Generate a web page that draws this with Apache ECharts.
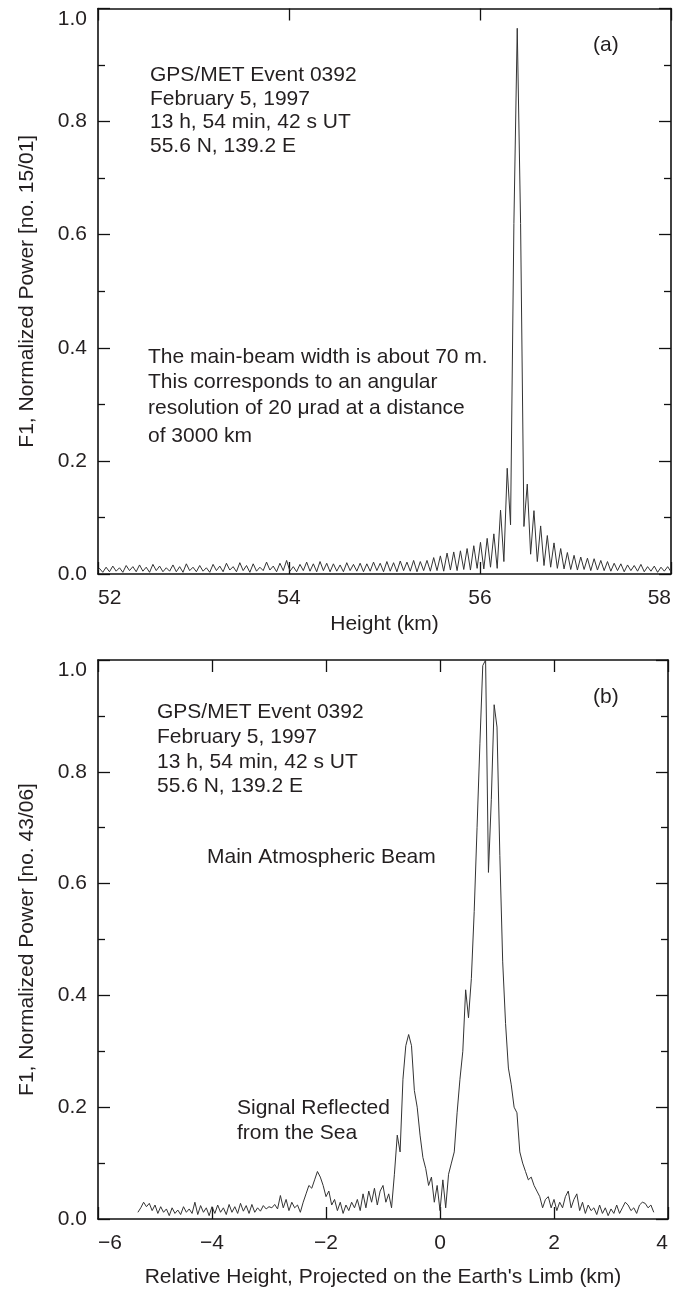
<!DOCTYPE html>
<html>
<head>
<meta charset="utf-8">
<script src="https://cdn.jsdelivr.net/npm/echarts@6/dist/echarts.min.js"></script>
<style>html,body{margin:0;padding:0;background:#fff}#c{width:675px;height:1289px}</style>
</head>
<body>
<div id="c"></div>
<script>
// Panel (a): [height km, normalized power]
const curveA = [
[51.980,.004],[52.015,.010],[52.050,.003],[52.085,.012],[52.120,.004],[52.155,.014],[52.190,.005],[52.225,.011],[52.260,.003],[52.295,.015],
[52.330,.006],[52.365,.013],[52.400,.004],[52.435,.016],[52.470,.005],[52.505,.012],[52.540,.003],[52.575,.017],[52.610,.006],[52.645,.014],
[52.680,.004],[52.715,.011],[52.750,.005],[52.785,.016],[52.820,.004],[52.855,.013],[52.890,.003],[52.925,.018],[52.960,.006],[52.995,.012],
[53.030,.004],[53.065,.015],[53.100,.005],[53.135,.011],[53.170,.003],[53.205,.017],[53.240,.006],[53.275,.014],[53.310,.004],[53.345,.019],
[53.380,.007],[53.415,.013],[53.450,.004],[53.485,.020],[53.520,.006],[53.555,.015],[53.590,.003],[53.625,.018],[53.660,.005],[53.695,.012],
[53.730,.006],[53.765,.021],[53.800,.007],[53.835,.014],[53.870,.004],[53.905,.019],[53.940,.006],[53.975,.024],[54.010,.005],[54.045,.013],
[54.080,.004],[54.115,.017],[54.150,.006],[54.185,.021],[54.220,.005],[54.255,.018],[54.290,.004],[54.325,.022],[54.360,.006],[54.395,.019],
[54.430,.004],[54.465,.018],[54.500,.005],[54.535,.016],[54.570,.004],[54.605,.020],[54.640,.006],[54.675,.017],[54.710,.005],[54.745,.019],
[54.780,.004],[54.815,.018],[54.850,.005],[54.885,.021],[54.920,.006],[54.955,.019],[54.990,.004],[55.025,.022],[55.060,.005],[55.095,.020],
[55.130,.004],[55.165,.023],[55.200,.006],[55.235,.021],[55.270,.005],[55.305,.024],[55.340,.004],[55.375,.022],[55.410,.006],[55.445,.024],
[55.480,.005],[55.515,.029],[55.550,.006],[55.585,.032],[55.620,.005],[55.655,.037],[55.690,.007],[55.725,.039],[55.760,.006],[55.795,.041],
[55.830,.008],[55.865,.045],[55.900,.007],[55.935,.050],[55.970,.010],[56.005,.056],[56.040,.009],[56.075,.063],[56.110,.012],[56.145,.071],
[56.180,.010],[56.215,.113],[56.250,.022],[56.285,.187],[56.320,.087],[56.355,.620],[56.390,.965],[56.425,.620],[56.460,.084],[56.495,.159],
[56.530,.035],[56.565,.112],[56.600,.022],[56.635,.085],[56.670,.015],[56.705,.068],[56.740,.012],[56.775,.055],[56.810,.010],[56.845,.045],
[56.880,.009],[56.915,.038],[56.950,.008],[56.985,.033],[57.020,.007],[57.055,.030],[57.090,.008],[57.125,.028],[57.160,.006],[57.195,.027],
[57.230,.007],[57.265,.024],[57.300,.006],[57.335,.022],[57.370,.005],[57.405,.019],[57.440,.006],[57.475,.018],[57.510,.004],[57.545,.016],
[57.580,.006],[57.615,.015],[57.650,.005],[57.685,.017],[57.720,.004],[57.755,.013],[57.790,.005],[57.825,.014],[57.860,.003],[57.895,.012],
[57.930,.005],[57.965,.013],[58.000,.004]
];
// Panel (b): [relative height km, normalized power]
const curveB = [
[-5.30,.012],[-5.25,.020],[-5.20,.030],[-5.15,.022],[-5.10,.028],[-5.05,.015],[-5.00,.025],[-4.95,.010],[-4.90,.022],[-4.85,.012],
[-4.80,.018],[-4.75,.006],[-4.70,.020],[-4.65,.010],[-4.60,.016],[-4.55,.008],[-4.50,.022],[-4.45,.012],[-4.40,.018],[-4.35,.010],
[-4.30,.030],[-4.25,.008],[-4.20,.024],[-4.15,.012],[-4.10,.020],[-4.05,.006],[-4.00,.022],[-3.95,.010],[-3.90,.025],[-3.85,.012],
[-3.80,.020],[-3.75,.008],[-3.70,.026],[-3.65,.012],[-3.60,.022],[-3.55,.010],[-3.50,.028],[-3.45,.014],[-3.40,.024],[-3.35,.010],
[-3.30,.026],[-3.25,.012],[-3.20,.020],[-3.15,.014],[-3.10,.024],[-3.05,.018],[-3.00,.022],[-2.95,.020],[-2.90,.026],[-2.85,.018],
[-2.80,.042],[-2.75,.020],[-2.70,.035],[-2.65,.015],[-2.60,.030],[-2.55,.020],[-2.50,.025],[-2.45,.012],[-2.40,.030],[-2.35,.045],
[-2.30,.060],[-2.25,.055],[-2.20,.070],[-2.15,.085],[-2.10,.075],[-2.05,.060],[-2.00,.040],[-1.95,.050],[-1.90,.025],[-1.85,.035],
[-1.80,.015],[-1.75,.030],[-1.70,.010],[-1.65,.025],[-1.60,.015],[-1.55,.030],[-1.50,.020],[-1.45,.035],[-1.40,.015],[-1.35,.045],
[-1.30,.020],[-1.25,.050],[-1.20,.030],[-1.15,.055],[-1.10,.025],[-1.05,.050],[-1.00,.060],[-0.95,.030],[-0.90,.045],[-0.85,.020],
[-0.80,.080],[-0.75,.150],[-0.70,.120],[-0.65,.250],[-0.60,.310],[-0.55,.330],[-0.50,.310],[-0.45,.230],[-0.40,.200],[-0.35,.150],
[-0.30,.110],[-0.25,.090],[-0.20,.060],[-0.15,.075],[-0.10,.030],[-0.05,.060],[0.00,.015],[0.05,.070],[0.10,.020],[0.15,.080],
[0.20,.100],[0.25,.120],[0.30,.190],[0.35,.250],[0.40,.300],[0.45,.410],[0.50,.360],[0.55,.430],[0.60,.550],[0.65,.700],
[0.70,.850],[0.75,.990],[0.80,1.000],[0.85,.620],[0.90,.750],[0.95,.920],[1.00,.880],[1.05,.650],[1.10,.460],[1.15,.350],
[1.20,.270],[1.25,.240],[1.30,.200],[1.35,.190],[1.40,.120],[1.45,.100],[1.50,.085],[1.55,.070],[1.60,.075],[1.65,.060],
[1.70,.050],[1.75,.040],[1.80,.020],[1.85,.035],[1.90,.040],[1.95,.020],[2.00,.035],[2.05,.015],[2.10,.030],[2.15,.020],
[2.20,.040],[2.25,.050],[2.30,.020],[2.35,.035],[2.40,.045],[2.45,.015],[2.50,.030],[2.55,.010],[2.60,.025],[2.65,.015],
[2.70,.020],[2.75,.008],[2.80,.025],[2.85,.010],[2.90,.020],[2.95,.006],[3.00,.018],[3.05,.010],[3.10,.025],[3.15,.010],
[3.20,.020],[3.25,.030],[3.30,.025],[3.35,.015],[3.40,.020],[3.45,.010],[3.50,.025],[3.55,.030],[3.60,.028],[3.65,.020],
[3.70,.025],[3.75,.012]
];
const xTicksA = [52, 54, 56, 58];
const xTicksB = [-6, -4, -2, 0, 2, 4];
const yTicks = [0, 0.2, 0.4, 0.6, 0.8, 1.0];
const infoLines = ['GPS/MET Event 0392', 'February 5, 1997', '13 h, 54 min, 42 s UT', '55.6 N, 139.2 E'];
const beamNote = ['The main-beam width is about 70 m.', 'This corresponds to an angular', 'resolution of 20 \u03bcrad at a distance', 'of 3000 km'];

const FONT = '"Liberation Sans", Arial, Helvetica, sans-serif';
const INK = '#231f20';
const chart = echarts.init(document.getElementById('c'), null, {renderer: 'canvas'});

function xAx(grid, min, max, ticks, name, gap, pos) {
  const labels = pos === 'bottom';
  return {
    type: 'value', gridIndex: grid, position: pos, min: min, max: max, interval: ticks[1] - ticks[0],
    name: labels ? name : '', nameLocation: 'middle', nameGap: gap,
    nameTextStyle: {fontFamily: FONT, fontSize: 21, color: INK},
    axisLine: {show: true, onZero: false, lineStyle: {color: '#111', width: 1.6}},
    axisTick: {show: true, inside: true, length: 12, lineStyle: {color: '#111', width: 1.3}},
    minorTick: {show: false},
    splitLine: {show: false},
    axisLabel: {show: labels, fontFamily: FONT, fontSize: 21, color: INK, margin: 14,
      alignMinLabel: 'left', alignMaxLabel: 'right',
      formatter: v => (v < 0 ? '\u2212' + Math.abs(v) : String(v))}
  };
}
function yAx(grid, name, pos) {
  const labels = pos === 'left';
  return {
    type: 'value', gridIndex: grid, position: pos, min: 0, max: 1, interval: yTicks[1] - yTicks[0],
    name: labels ? name : '', nameLocation: 'middle', nameGap: 60, nameRotate: 90,
    nameTextStyle: {fontFamily: FONT, fontSize: 21, color: INK},
    axisLine: {show: true, onZero: false, lineStyle: {color: '#111', width: 1.6}},
    axisTick: {show: true, inside: true, length: 12, lineStyle: {color: '#111', width: 1.3}},
    minorTick: {show: true, splitNumber: 2, length: 7, lineStyle: {color: '#111', width: 1.3}},
    splitLine: {show: false},
    axisLabel: {show: labels, fontFamily: FONT, fontSize: 21, color: INK, margin: 11,
      verticalAlignMaxLabel: 'top',
      formatter: v => v.toFixed(1)}
  };
}

const graphics = [];
function addText(txt, x, y) {
  graphics.push({type: 'text', x: x, y: y, z: 10,
    style: {text: txt, font: '21px ' + FONT, fill: INK, verticalAlign: 'middle', align: 'left'}});
}
[75, 99, 122, 146].forEach((y, i) => addText(infoLines[i], 150, y));
[357, 382, 408, 436].forEach((y, i) => addText(beamNote[i], 148, y));
addText('(a)', 593, 45);
[712, 737, 762, 786].forEach((y, i) => addText(infoLines[i], 157, y));
addText('(b)', 593, 697);
addText('Main Atmospheric Beam', 207, 857);
addText('Signal Reflected', 237, 1108);
addText('from the Sea', 237, 1133);

chart.setOption({
  animation: false,
  backgroundColor: '#ffffff',
  grid: [
    {left: 98, top: 8.5, width: 573, height: 565.5},
    {left: 98, top: 660, width: 570, height: 560}
  ],
  xAxis: [
    xAx(0, xTicksA[0], xTicksA[xTicksA.length - 1], xTicksA, 'Height (km)', 40, 'bottom'),
    xAx(0, xTicksA[0], xTicksA[xTicksA.length - 1], xTicksA, '', 40, 'top'),
    xAx(1, xTicksB[0], xTicksB[xTicksB.length - 1], xTicksB, "Relative Height, Projected on the Earth's Limb (km)", 48, 'bottom'),
    xAx(1, xTicksB[0], xTicksB[xTicksB.length - 1], xTicksB, '', 48, 'top')
  ],
  yAxis: [
    yAx(0, 'F1, Normalized Power [no. 15/01]', 'left'),
    yAx(0, '', 'right'),
    yAx(1, 'F1, Normalized Power [no. 43/06]', 'left'),
    yAx(1, '', 'right')
  ],
  series: [
    {type: 'line', xAxisIndex: 0, yAxisIndex: 0, data: curveA, showSymbol: false, clip: true,
      lineStyle: {color: '#333333', width: 1}},
    {type: 'line', xAxisIndex: 2, yAxisIndex: 2, data: curveB, showSymbol: false, clip: true,
      lineStyle: {color: '#333333', width: 1}}
  ],
  graphic: graphics
});
</script>
</body>
</html>
